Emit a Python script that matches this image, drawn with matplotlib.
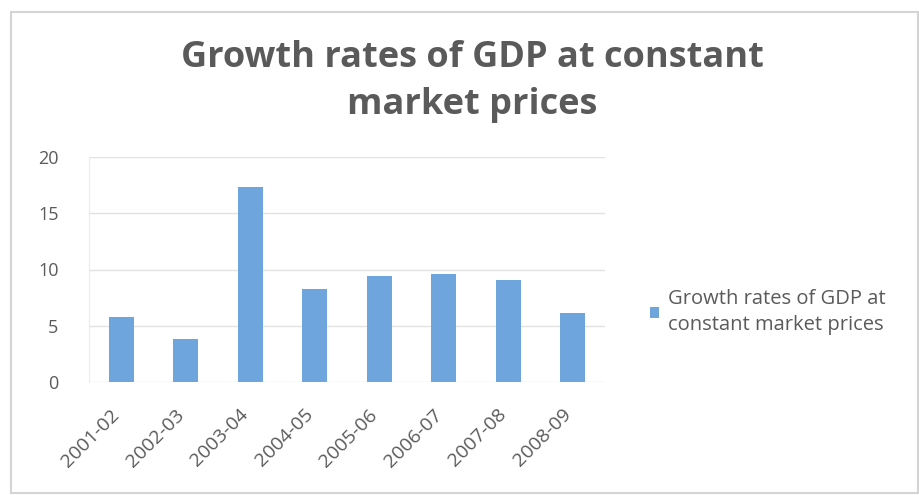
import matplotlib.pyplot as plt
import matplotlib.transforms as mtransforms
from matplotlib.patches import Rectangle

years = ["2001-02", "2002-03", "2003-04", "2004-05",
         "2005-06", "2006-07", "2007-08", "2008-09"]
growth = [5.8, 3.8, 17.3, 8.3, 9.4, 9.6, 9.1, 6.1]
series_name = "Growth rates of GDP at\nconstant market prices"

plt.rcParams['font.family'] = ['Open Sans', 'DejaVu Sans']
text_col = '#5a5a5a'
bar_col = '#6fa5dd'

fig = plt.figure(figsize=(9.2, 4.95), dpi=100)

# light frame round the whole chart
fig.patches.append(Rectangle((11 / 920, 2 / 495), 907 / 920, 481 / 495,
                             transform=fig.transFigure, fill=False,
                             edgecolor='#d4d4d4', linewidth=1.5))

ax = fig.add_axes([89 / 920, 113 / 495, 516 / 920, 225 / 495])
x = range(len(years))
ax.bar(x, growth, width=0.39, color=bar_col, label=series_name, zorder=3)
ax.set_xlim(-0.5, len(years) - 0.5)
ax.set_ylim(0, 20)
ax.set_yticks([0, 5, 10, 15, 20])
ax.yaxis.grid(True, color='#e2e2e2', linewidth=1, zorder=0)
for s in ['top', 'right', 'bottom']:
    ax.spines[s].set_visible(False)
ax.spines['left'].set_color('#ececec')
ax.tick_params(axis='y', length=0, pad=22, labelsize=13, labelcolor=text_col)
ax.tick_params(axis='x', length=0, pad=17, labelsize=14, labelcolor=text_col)
ax.set_xticks(list(x))
ax.set_xticklabels(years, rotation=45, ha='right', rotation_mode='anchor')
shift = mtransforms.ScaledTranslation(-11 / 100, 0, fig.dpi_scale_trans)
for lab in ax.get_xticklabels():
    lab.set_transform(lab.get_transform() + shift)

fig.text(472 / 920, 1 - 58 / 495, "Growth rates of GDP at constant",
         ha='center', va='center', fontsize=26, fontweight='bold', color=text_col)
fig.text(472 / 920, 1 - 105 / 495, "market prices",
         ha='center', va='center', fontsize=26, fontweight='bold', color=text_col)

leg = ax.legend(loc='center left', bbox_to_anchor=(632 / 920, 1 - 312 / 495),
                bbox_transform=fig.transFigure, frameon=False, fontsize=14.5,
                handlelength=0.45, handleheight=0.45, handletextpad=0.45,
                labelspacing=0.3)
for t in leg.get_texts():
    t.set_color(text_col)
    t.set_linespacing(1.4)

fig.savefig("out.png", dpi=100)
